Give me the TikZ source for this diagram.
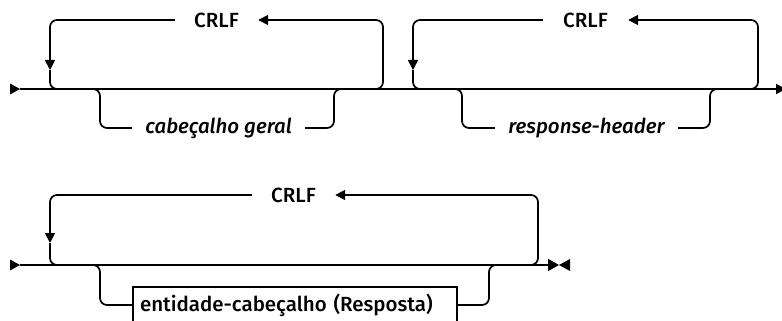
\documentclass[tikz,border=0pt]{standalone}
\usepackage{fontspec}
\setmainfont{Fira Sans}
\newfontfamily\railmed{Fira Sans Medium}
\usetikzlibrary{arrows.meta,positioning,calc}
\tikzstyle{rail}=[line width=1.7pt,rounded corners=7pt]
\tikzstyle{rarr}=[-{Triangle[length=10pt,width=10pt]}]
\tikzstyle{rep}=[inner sep=0pt,minimum height=16pt,font=\railmed\fontsize{20.5}{24}\selectfont]
\tikzstyle{nonterm}=[inner sep=0pt,minimum height=16pt,font=\railmed\itshape\fontsize{20.5}{24}\selectfont]
\tikzstyle{term}=[rectangle,draw,line width=1.7pt,inner xsep=7pt,align=left,text width=310pt,minimum height=36pt,font=\railmed\fontsize{20.5}{24}\selectfont]

\begin{document}
\begin{tikzpicture}[x=1pt,y=-1pt]
\useasboundingbox (0,0) rectangle (782,321);
% first line
\coordinate (in1) at (20,89);
\coordinate (out1) at (786,89);
\coordinate (lx1) at (50,89);
\coordinate (rx1) at (383,89);
\coordinate (bx1) at (100,89);
\coordinate (ex1) at (334,89);
\coordinate (lx2) at (413,89);
\coordinate (rx2) at (758,89);
\coordinate (bx2) at (462,89);
\coordinate (ex2) at (710,89);
\node[rep, minimum width=83pt] (crlf1) at (216.5,20) {CRLF};
\node[nonterm, minimum width=173pt] (geral) at (218.5,128) {cabeçalho geral};
\node[rep, minimum width=85pt] (crlf2) at (585.5,20) {CRLF};
\node[nonterm, minimum width=183pt] (resp) at (586.5,128) {response-header};
\fill (in1) -- ++(-10,-5.5) -- ++(0,11) -- cycle;
\draw[rail,rarr] (in1) -- (out1);
% repeat loops
\draw[rail,rarr] ([xshift=-15pt]rx1) -| (rx1 |- crlf1) -- (crlf1.east);
\draw[rail,rarr] (crlf1.west) -| ([yshift=19pt]lx1);
\draw[rail] ([yshift=19pt]lx1) |- ([xshift=15pt]lx1);
\draw[rail,rarr] ([xshift=-15pt]rx2) -| (rx2 |- crlf2) -- (crlf2.east);
\draw[rail,rarr] (crlf2.west) -| ([yshift=19pt]lx2);
\draw[rail] ([yshift=19pt]lx2) |- ([xshift=15pt]lx2);
% optional items
\draw[rail] ([xshift=-12pt]bx1) -| (bx1 |- geral) -- (geral.west);
\draw[rail] (geral.east) -| (ex1) -- ([xshift=12pt]ex1);
\draw[rail] ([xshift=-12pt]bx2) -| (bx2 |- resp) -- (resp.west);
\draw[rail] (resp.east) -| (ex2) -- ([xshift=12pt]ex2);

% second line
\coordinate (in2) at (20,265);
\coordinate (out2) at (559,265);
\coordinate (lx3) at (50,265);
\coordinate (rx3) at (538,265);
\coordinate (bx3) at (100,265);
\coordinate (ex3) at (489,265);
\node[rep, minimum width=83pt] (crlf3) at (293.5,195) {CRLF};
\node[term] (ent) at (295,305) {entidade-cabeçalho (Resposta)};
\fill (in2) -- ++(-10,-5.5) -- ++(0,11) -- cycle;
\draw[rail,-{Triangle[length=11pt,width=12pt]}] (in2) -- (out2);
\fill (out2) -- ++(11,-6) -- ++(0,12) -- cycle;
\draw[rail,rarr] ([xshift=-15pt]rx3) -| (rx3 |- crlf3) -- (crlf3.east);
\draw[rail,rarr] (crlf3.west) -| ([yshift=22pt]lx3);
\draw[rail] ([yshift=22pt]lx3) |- ([xshift=15pt]lx3);
\draw[rail] ([xshift=-12pt]bx3) -| (bx3 |- ent) -- (ent.west);
\draw[rail] (ent.east) -| (ex3) -- ([xshift=12pt]ex3);
\end{tikzpicture}
\end{document}
